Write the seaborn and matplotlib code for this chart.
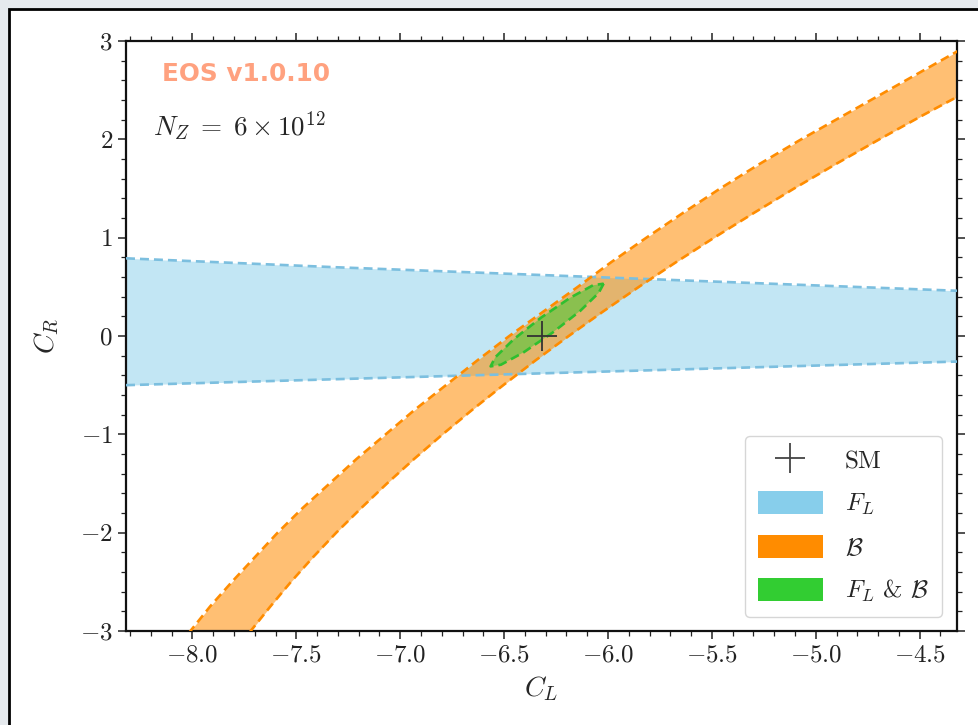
import numpy as np
import pandas as pd
import matplotlib
matplotlib.use("Agg")
import matplotlib.pyplot as plt
from matplotlib.patches import Patch, Rectangle
from matplotlib.lines import Line2D
from matplotlib.ticker import FuncFormatter, MultipleLocator
import seaborn as sns

# ---------------- data ----------------
sm_point = (-6.32, 0.0)
x_limits = (-8.32, -4.32)
y_limits = (-3.0, 3.0)
x_ticks = [-8.0, -7.5, -7.0, -6.5, -6.0, -5.5, -5.0, -4.5]
y_ticks = [-3, -2, -1, 0, 1, 2, 3]

# F_L band (straight dashed edges)
fl_cl = [-8.32, -7.32, -6.32, -5.32, -4.32]
fl_upper = [0.79, 0.70, 0.62, 0.54, 0.46]
fl_lower = [-0.50, -0.44, -0.38, -0.32, -0.26]

# Branching-ratio band: C_L of each edge at given C_R
br_cr = [-3.25, -3.0, -2.75, -2.5, -2.25, -2.0, -1.75, -1.5, -1.25, -1.0, -0.75, -0.5, -0.25,
         0.0, 0.25, 0.5, 0.75, 1.0, 1.25, 1.5, 1.75, 2.0, 2.25, 2.5, 2.75, 3.0, 3.25]
br_outer = [-8.10, -8.01, -7.915, -7.81, -7.70, -7.59, -7.47, -7.34, -7.21, -7.07, -6.93, -6.78, -6.63,
            -6.475, -6.31, -6.145, -5.985, -5.815, -5.64, -5.46, -5.27, -5.07, -4.86, -4.65, -4.44, -4.23, -4.01]
br_inner = [-7.80, -7.72, -7.625, -7.526, -7.42, -7.308, -7.188, -7.064, -6.933, -6.796, -6.653, -6.504, -6.35,
            -6.189, -6.023, -5.851, -5.673, -5.489, -5.299, -5.104, -4.902, -4.694, -4.48, -4.259, -4.032, -3.797, -3.555]

# Combined F_L & B contour
comb_cl = [-6.021, -6.045, -6.134, -6.267, -6.406, -6.515, -6.565, -6.542, -6.453, -6.320, -6.181, -6.072, -6.021]
comb_cr = [0.532, 0.438, 0.255, 0.034, -0.166, -0.292, -0.309, -0.215, -0.032, 0.190, 0.390, 0.516, 0.532]

legend_labels = ["SM", r"$F_L$", r"$\mathcal{B}$", r"$F_L$ & $\mathcal{B}$"]

# ---------------- style ----------------
sns.set_theme(style="ticks")
plt.rcParams["font.family"] = ["cmr10", "DejaVu Serif"]
plt.rcParams["mathtext.fontset"] = "cm"
plt.rcParams["axes.formatter.use_mathtext"] = True

blue = "#87CEEB"
orange = "#FF8C00"
green = "#32CD32"

fig = plt.figure(figsize=(9.79, 7.25), dpi=100, facecolor="#e5e9ed")
# framed white panel (screenshot look)
fig.patches.append(Rectangle((9 / 979, -0.1), 1.2, 1.1 - 9 / 725, transform=fig.transFigure,
                             facecolor="white", edgecolor="black", linewidth=2.0, zorder=-10))
ax = fig.add_axes([126 / 979, (725 - 631) / 725, (957 - 126) / 979, 590 / 725])
ax.set_facecolor("white")

# F_L band
ax.fill_between(fl_cl, fl_lower, fl_upper, color=blue, alpha=0.5, linewidth=0, zorder=1)
# B band
ax.fill_betweenx(br_cr, br_outer, br_inner, color=orange, alpha=0.55, linewidth=0, zorder=2)
# combined
ax.fill(comb_cl, comb_cr, color=green, alpha=0.5, linewidth=0, zorder=3)

lw = 1.9
dash = (0, (3.4, 1.9))
for ys in (fl_upper, fl_lower):
    sns.lineplot(x=fl_cl, y=ys, ax=ax, color="#7cbfdf", linestyle=dash, linewidth=lw, sort=False,
                 estimator=None, zorder=4)
for xs in (br_outer, br_inner):
    sns.lineplot(x=xs, y=br_cr, ax=ax, color=orange, linestyle=dash, linewidth=lw, sort=False,
                 estimator=None, orient="y", zorder=5)
sns.lineplot(x=comb_cl, y=comb_cr, ax=ax, color="#2fbf2f", linestyle=dash, linewidth=lw, sort=False,
             estimator=None, zorder=6)

sns.scatterplot(x=[sm_point[0]], y=[sm_point[1]], ax=ax, marker="+", s=480, color="#333333",
                linewidth=1.3, zorder=10)

ax.set_xlim(*x_limits)
ax.set_ylim(*y_limits)
ax.set_xticks(x_ticks)
ax.set_yticks(y_ticks)
ax.xaxis.set_minor_locator(MultipleLocator(0.1))
ax.yaxis.set_minor_locator(MultipleLocator(0.2))
ax.xaxis.set_major_formatter(FuncFormatter(lambda v, p: f"${v:.1f}$"))
ax.yaxis.set_major_formatter(FuncFormatter(lambda v, p: f"${v:.0f}$"))
ax.tick_params(which="both", direction="out", top=True, right=True, colors="#222222",
               labelsize=18)
ax.tick_params(which="major", length=6, width=1.1)
ax.tick_params(which="minor", length=3.5, width=0.9)
for s in ax.spines.values():
    s.set_visible(True)
    s.set_color("#111111")
    s.set_linewidth(1.6)

ax.set_xlabel(r"$C_L$", fontsize=20, labelpad=6)
ax.set_ylabel(r"$C_R$", fontsize=20, labelpad=14)

ax.text(0.043, 0.944, "EOS v1.0.10", transform=ax.transAxes, color="OrangeRed", alpha=0.5,
        fontsize=17.8, fontweight="bold", family="DejaVu Sans", va="center", ha="left")
ax.text(0.032, 0.854, r"$N_Z\;=\;6\times10^{12}$", transform=ax.transAxes, fontsize=19.5,
        va="center", ha="left")

handles = [
    Line2D([], [], marker="+", linestyle="none", color="#444444", markersize=21, markeredgewidth=1.3),
    Patch(facecolor=blue, edgecolor="none"),
    Patch(facecolor=orange, edgecolor="none"),
    Patch(facecolor=green, edgecolor="none"),
]
leg = ax.legend(handles, legend_labels, loc="lower right", fontsize=18, frameon=True,
                handlelength=2.6, handleheight=1.0, labelspacing=0.72, borderpad=0.5,
                handletextpad=0.9, fancybox=True, borderaxespad=0,
                bbox_to_anchor=(0.9816, 0.024))
leg.get_frame().set_edgecolor("#cccccc")
leg.get_frame().set_linewidth(1.0)

fig.savefig("out.png", dpi=100, facecolor=fig.get_facecolor())
